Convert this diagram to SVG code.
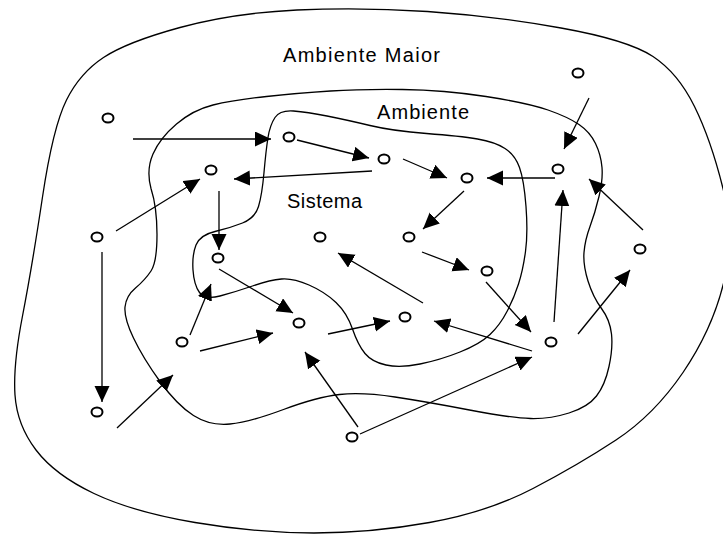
<svg xmlns="http://www.w3.org/2000/svg" width="723" height="535" viewBox="0 0 723 535">
  <style>
    .bound { fill: none; stroke: #000; stroke-width: 1.3; }
    .node { fill: #fff; stroke: #000; stroke-width: 2; }
    .link { fill: none; stroke: #000; stroke-width: 1.3; marker-end: url(#head); }
    .label { font-family: "Liberation Sans", Arial, sans-serif; font-size: 20px; fill: #000; }
  </style>
  <defs>
    <marker id="head" markerUnits="userSpaceOnUse" markerWidth="17" markerHeight="16" refX="16" refY="7.5" orient="auto">
      <path d="M0,0 L16,7.5 L0,15 Z" fill="#000"/>
    </marker>
  </defs>
  <rect width="723" height="535" fill="#fff"/>

  <!-- nested boundaries -->
  <g id="boundaries">
    <path id="ambiente-maior" class="bound" d="M180,27.5 Q233,13 297,10 Q361,7 427.5,11.5 Q494,16 561,28 Q628,40 653,56.5 Q678,73 694.5,106.5 Q711,140 723,188.5 Q735,237 723.5,283.5 Q712,330 683,372.5 Q654,415 616,440 Q578,465 533,488.5 Q488,512 429.5,522.5 Q371,533 314,533 Q257,533 195,522.5 Q133,512 94,493.5 Q55,475 36,450 Q17,425 15,395 Q13,365 22.5,316 Q32,267 42.5,197 Q53,127 66.5,100 Q80,73 103.5,57.5 Q127,42 180,27.5 Z"/>
    <path id="ambiente" class="bound" d="M176.5,124 Q193,110 213,105 Q233,100 266.5,96.5 Q300,93 330.5,91 Q361,89 402.5,89.5 Q444,90 486,96.5 Q528,103 548,110 Q568,117 579,124.5 Q590,132 595.5,143.5 Q601,155 602,167.5 Q603,180 599,196.5 Q595,213 590,226.5 Q585,240 584,252.5 Q583,265 588,281 Q593,297 601.5,308.5 Q610,320 611.5,334 Q613,348 609,366.5 Q605,385 596.5,396 Q588,407 569,413 Q550,419 530.5,418.5 Q511,418 469.5,410 Q428,402 395,397 Q362,392 339.5,394.5 Q317,397 283.5,409.5 Q250,422 230,424 Q210,426 193.5,415.5 Q177,405 160,381.5 Q143,358 133.5,338 Q124,318 125,307 Q126,296 135.5,288 Q145,280 151,271 Q157,262 157,234.5 Q157,207 151,188.5 Q146,170 153,154 Q160,138 176.5,124 Z"/>
    <path id="sistema" class="bound" d="M275,117.5 Q280,110 293.5,111 Q307,112 327,116 Q347,120 370,125.5 Q393,131 426.5,133.5 Q460,136 477.5,139 Q495,142 505,148.5 Q515,155 519.5,167.5 Q524,180 526,206.5 Q528,233 525.5,251.5 Q523,270 518.5,284 Q514,298 507,311.5 Q500,325 490,334.5 Q480,344 460,352 Q440,360 420,364 Q400,368 386,365 Q372,362 365,353.5 Q358,345 352.5,329 Q347,313 336,302.5 Q325,292 309,285 Q293,278 281.5,279 Q270,280 252.5,286 Q235,292 220,296 Q205,300 199.5,292.5 Q194,285 193,270 Q192,255 196,245 Q200,235 215,231.5 Q230,228 242.5,223 Q255,218 258.5,206.5 Q262,195 264,172.5 Q266,150 268,137.5 Q270,125 275,117.5 Z"/>
  </g>

  <!-- region labels -->
  <text class="label" x="283" y="62" textLength="157" lengthAdjust="spacing">Ambiente Maior</text>
  <text class="label" x="377" y="119" textLength="92" lengthAdjust="spacing">Ambiente</text>
  <text class="label" x="287" y="208" textLength="75" lengthAdjust="spacing">Sistema</text>

  <!-- connectors -->
  <g id="connectors">
    <line class="link" x1="133" y1="139" x2="271" y2="139"/>
    <line class="link" x1="297" y1="140" x2="369" y2="158"/>
    <line class="link" x1="372" y1="171" x2="234" y2="179"/>
    <line class="link" x1="116" y1="231" x2="200" y2="179"/>
    <line class="link" x1="219" y1="191" x2="219" y2="250"/>
    <line class="link" x1="102" y1="252" x2="102" y2="402"/>
    <line class="link" x1="117" y1="428" x2="173" y2="375"/>
    <line class="link" x1="190" y1="335" x2="211" y2="284"/>
    <line class="link" x1="219" y1="269" x2="293" y2="313"/>
    <line class="link" x1="200" y1="351" x2="273" y2="333"/>
    <line class="link" x1="358" y1="427" x2="305" y2="352"/>
    <line class="link" x1="360" y1="434" x2="532" y2="357"/>
    <line class="link" x1="328" y1="334" x2="390" y2="321"/>
    <line class="link" x1="423" y1="303" x2="338" y2="253"/>
    <line class="link" x1="532" y1="351" x2="434" y2="321"/>
    <line class="link" x1="486" y1="282" x2="531" y2="332"/>
    <line class="link" x1="554" y1="322" x2="563" y2="190"/>
    <line class="link" x1="578" y1="334" x2="630" y2="270"/>
    <line class="link" x1="643" y1="230" x2="589" y2="179"/>
    <line class="link" x1="589" y1="98" x2="564" y2="149"/>
    <line class="link" x1="555" y1="178" x2="487" y2="178"/>
    <line class="link" x1="403" y1="159" x2="447" y2="178"/>
    <line class="link" x1="464" y1="191" x2="423" y2="229"/>
    <line class="link" x1="422" y1="252" x2="469" y2="270"/>
  </g>

  <!-- elements -->
  <g id="n1"><ellipse class="node" cx="108" cy="118" rx="5.5" ry="4.5"/></g>
  <g id="n2"><ellipse class="node" cx="289" cy="137" rx="5.5" ry="4.5"/></g>
  <g id="n3"><ellipse class="node" cx="211" cy="170" rx="5.5" ry="4.5"/></g>
  <g id="n4"><ellipse class="node" cx="97" cy="237" rx="5.5" ry="4.5"/></g>
  <g id="n5"><ellipse class="node" cx="320" cy="237" rx="5.5" ry="4.5"/></g>
  <g id="n6"><ellipse class="node" cx="218" cy="258" rx="5.5" ry="4.5"/></g>
  <g id="n7"><ellipse class="node" cx="384" cy="159" rx="5.5" ry="4.5"/></g>
  <g id="n8"><ellipse class="node" cx="467" cy="178" rx="5.5" ry="4.5"/></g>
  <g id="n9"><ellipse class="node" cx="558" cy="169" rx="5.5" ry="4.5"/></g>
  <g id="n10"><ellipse class="node" cx="578" cy="73" rx="5.5" ry="4.5"/></g>
  <g id="n11"><ellipse class="node" cx="409" cy="237" rx="5.5" ry="4.5"/></g>
  <g id="n12"><ellipse class="node" cx="640" cy="249" rx="5.5" ry="4.5"/></g>
  <g id="n13"><ellipse class="node" cx="487" cy="271" rx="5.5" ry="4.5"/></g>
  <g id="n14"><ellipse class="node" cx="551" cy="342" rx="5.5" ry="4.5"/></g>
  <g id="n15"><ellipse class="node" cx="405" cy="317" rx="5.5" ry="4.5"/></g>
  <g id="n16"><ellipse class="node" cx="299" cy="323" rx="5.5" ry="4.5"/></g>
  <g id="n17"><ellipse class="node" cx="182" cy="342" rx="5.5" ry="4.5"/></g>
  <g id="n18"><ellipse class="node" cx="97" cy="412" rx="5.5" ry="4.5"/></g>
  <g id="n19"><ellipse class="node" cx="352" cy="437" rx="5.5" ry="4.5"/></g>
</svg>
